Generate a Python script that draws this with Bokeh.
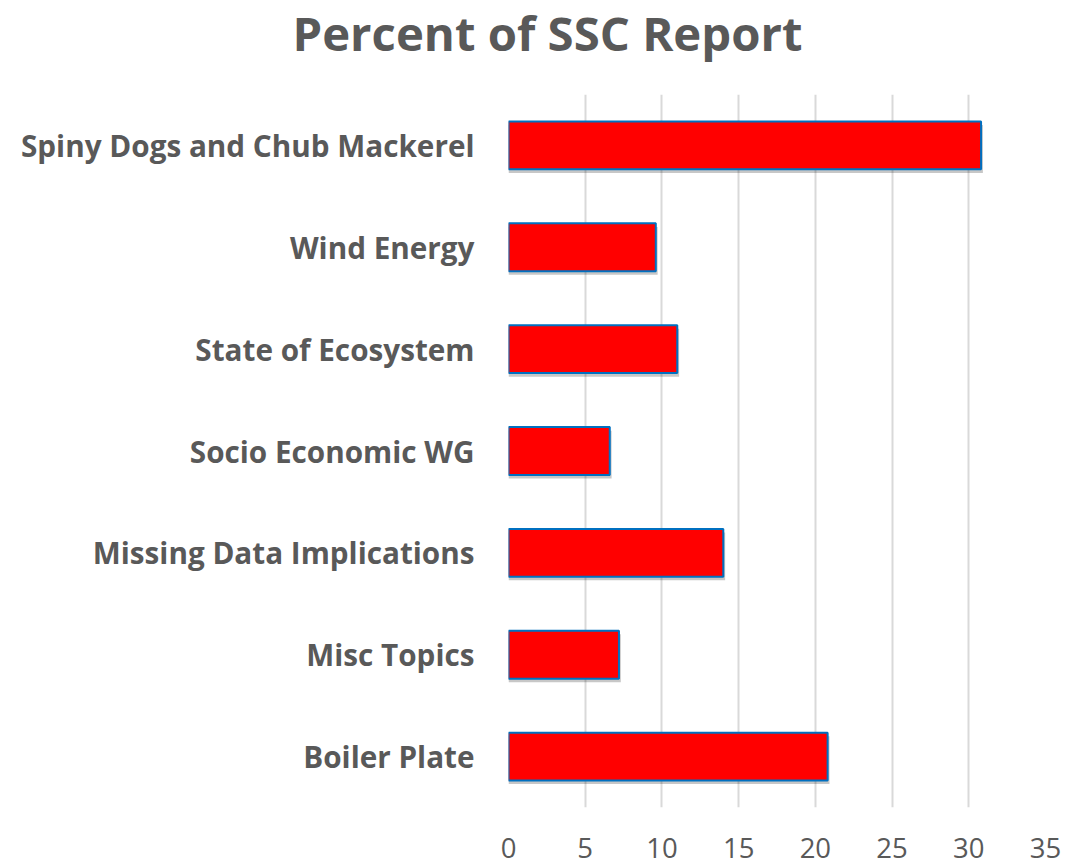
from bokeh.plotting import figure
from bokeh.models import ColumnDataSource, FixedTicker, FactorRange, Div
from bokeh.layouts import column
from bokeh.transform import dodge
from bokeh.embed import file_html
from bokeh.resources import INLINE

title_text = "Percent of SSC Report"
categories = ["Spiny Dogs and Chub Mackerel", "Wind Energy", "State of Ecosystem",
              "Socio Economic WG", "Missing Data Implications", "Misc Topics", "Boiler Plate"]
percent = [30.8, 9.6, 11.0, 6.6, 14.0, 7.2, 20.8]
x_ticks = [0, 5, 10, 15, 20, 25, 30, 35]

TEXT = "#595959"
FONT = "Open Sans"
W = 1071
TITLE_H = 80
H = 780

src = ColumnDataSource(data=dict(cat=categories, val=percent))

p = figure(width=W, height=H,
           x_range=(0, 35),
           y_range=FactorRange(factors=list(reversed(categories)), range_padding=0),
           output_backend="svg", toolbar_location=None,
           min_border_left=508, min_border_right=26, min_border_top=14, min_border_bottom=51)
p.outline_line_color = None
p.background_fill_color = "white"
p.border_fill_color = "white"

# soft shadow under the bars
p.hbar(y=dodge("cat", -0.035, range=p.y_range), left=0, right=dodge("val", 0.12),
       height=0.47, source=src, fill_color="black", fill_alpha=0.22, line_color=None)
p.hbar(y="cat", left=0, right="val", height=0.47, source=src,
       fill_color="#FF0000", line_color="#0070C0", line_width=2)

p.xaxis.ticker = FixedTicker(ticks=x_ticks)
p.xaxis.axis_line_color = None
p.xaxis.major_tick_line_color = None
p.xaxis.minor_tick_line_color = None
p.xaxis.major_label_text_font = FONT
p.xaxis.major_label_text_font_size = "27.5px"
p.xaxis.major_label_text_color = TEXT
p.xaxis.major_label_standoff = 24

p.yaxis.axis_line_color = None
p.yaxis.major_tick_line_color = None
p.yaxis.minor_tick_line_color = None
p.yaxis.major_label_text_font = FONT
p.yaxis.major_label_text_font_size = "29.7px"
p.yaxis.major_label_text_font_style = "bold"
p.yaxis.major_label_text_color = TEXT
p.yaxis.major_label_standoff = 28

p.xgrid.grid_line_color = "#D9D9D9"
p.xgrid.grid_line_width = 2
p.ygrid.grid_line_color = None

title = Div(text=title_text, width=W, height=TITLE_H,
            styles={"text-align": "center", "text-indent": "24px",
                    "font-family": FONT, "font-size": "47.3px",
                    "font-weight": "bold", "color": TEXT, "line-height": "66px",
                    "margin": "0", "white-space": "nowrap"})

layout = column(title, p, spacing=0)
open("out.html", "w").write(file_html(layout, INLINE))
